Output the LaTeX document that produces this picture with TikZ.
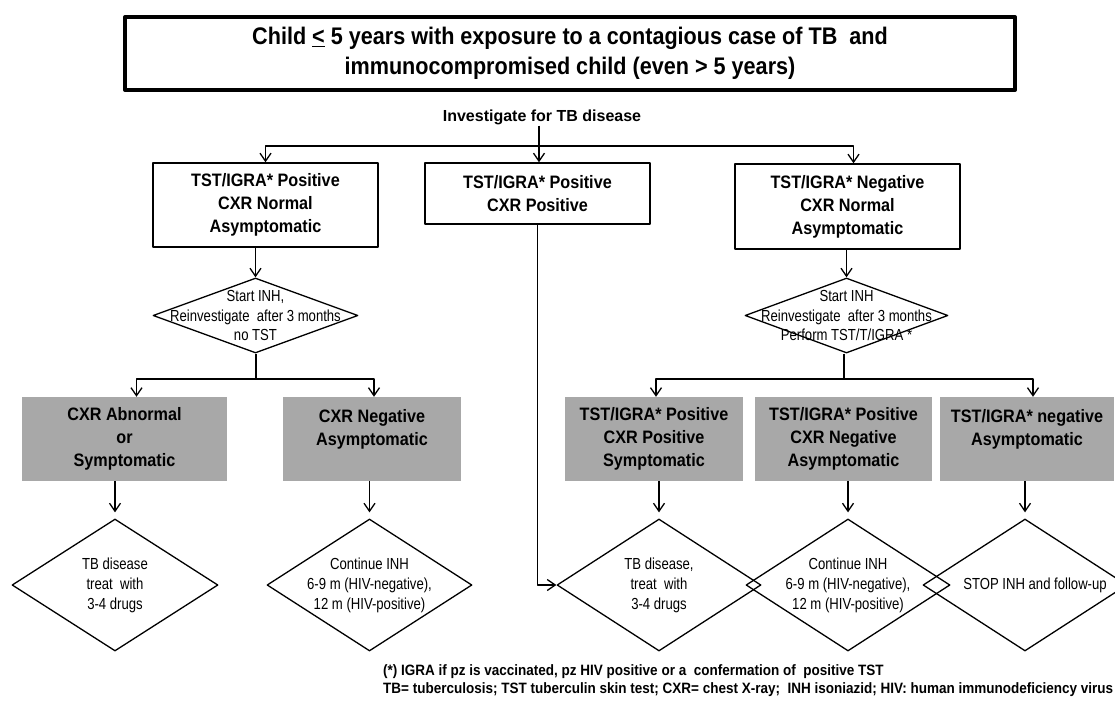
\documentclass[tikz,border=0pt]{standalone}
\usepackage{fontspec}
\setmainfont{Liberation Sans}
\newfontfamily\narrowfont{Liberation Sans}[FakeStretch=0.82]
\newfontfamily\notefamily{Liberation Sans}[FakeStretch=0.9]
\newfontfamily\titlefamily{Liberation Sans}[FakeStretch=0.9]
\usetikzlibrary{shapes.geometric,arrows.meta}
\definecolor{boxgrey}{RGB}{168,168,168}
\newcommand{\boxfont}{\titlefamily\bfseries\fontsize{18}{23}\selectfont}
\newcommand{\diafont}{\narrowfont\fontsize{16}{19.5}\selectfont}
\newcommand{\lowfont}{\narrowfont\fontsize{16}{20}\selectfont}
\newcommand{\notefont}{\notefamily\bfseries\fontsize{15}{18}\selectfont}
\tikzset{
	titlebox/.style={draw, line width=4pt, align=center, inner sep=0pt, font=\titlefamily\bfseries\fontsize{24}{30}\selectfont},
	whitebox/.style={draw, line width=1.4pt, align=center, inner sep=0pt, font=\boxfont},
	greybox/.style={fill=boxgrey, minimum height=84pt, align=center, inner sep=0pt, font=\boxfont},
	decision/.style={draw, diamond, line width=1.3pt, inner sep=0pt},
	diatext/.style={align=center, font=\diafont, inner sep=0pt},
	lowtext/.style={align=center, font=\lowfont, inner sep=0pt},
	link/.style={line width=1.3pt},
}
\begin{document}
\begin{tikzpicture}[x=1pt, y=-1pt, line join=round, >={Straight Barb[length=8pt,width=11pt]}]
	\useasboundingbox (0,0) rectangle (1115,712);
	%% title and first split
	\node[titlebox, minimum width=890pt, minimum height=73pt] (title) at (570,53.5)
	{Child \underline{<} 5 years with exposure to a contagious case of TB\ \ and\\immunocompromised child (even > 5 years)};
	\node[font=\bfseries\fontsize{16}{18}\selectfont, inner sep=1pt] (invest) at (542,117) {Investigate for TB disease};
	\coordinate (split) at (539,146);
	%% first row
	\node[whitebox, minimum width=225pt, minimum height=84pt] (b1) at (265.5,205) {TST/IGRA* Positive\\CXR Normal\\Asymptomatic};
	\node[whitebox, minimum width=225pt, minimum height=61pt] (b2) at (537.5,193.5) {TST/IGRA* Positive\\CXR Positive};
	\node[whitebox, minimum width=225pt, minimum height=85pt] (b3) at (847.5,206.5) {TST/IGRA* Negative\\CXR Normal\\Asymptomatic};
	\node[decision, minimum width=205pt, minimum height=75pt,
		label={[diatext]center:Start INH,\\Reinvestigate\ \ after 3 months\\no TST}] (d1) at (255.5,315.5) {};
	\node[decision, minimum width=203pt, minimum height=75pt,
		label={[diatext]center:Start INH\\Reinvestigate\ \ after 3 months\\Perform TST/T/IGRA *}] (d2) at (846.5,315.5) {};
	%% grey boxes
	\node[greybox, minimum width=205pt] (g1) at (124.5,439) {CXR Abnormal\\or\\Symptomatic};
	\node[greybox, minimum width=178pt] (g2) at (372,439) {CXR Negative\\Asymptomatic\\\mbox{}};
	\node[greybox, minimum width=178pt] (g3) at (654,439) {TST/IGRA* Positive\\CXR Positive\\Symptomatic};
	\node[greybox, minimum width=177pt] (g4) at (843.5,439) {TST/IGRA* Positive\\CXR Negative\\Asymptomatic};
	\node[greybox, minimum width=174pt] (g5) at (1027,439) {TST/IGRA* negative\\Asymptomatic\\\mbox{}};
	%% last row
	\node[decision, minimum width=206pt, minimum height=132pt,
		label={[lowtext]center:TB disease\\treat\ \ with\\3-4 drugs}] (e1) at (115,585) {};
	\node[decision, minimum width=205pt, minimum height=132pt,
		label={[lowtext]center:Continue INH\\6-9 m (HIV-negative),\\12 m (HIV-positive)}] (e2) at (369.5,585) {};
	\node[decision, minimum width=204pt, minimum height=132pt,
		label={[lowtext]center:TB disease,\\treat\ \ with\\3-4 drugs}] (e3) at (659,585) {};
	\node[decision, minimum width=204pt, minimum height=132pt,
		label={[lowtext]center:Continue INH\\6-9 m (HIV-negative),\\12 m (HIV-positive)}] (e4) at (848,585) {};
	\node[decision, minimum width=204pt, minimum height=132pt,
		label={[lowtext, xshift=10pt]center:STOP INH and follow-up}] (e5) at (1025,585) {};
	%% connectors
	\draw[link] (invest.south -| split) -- (split);
	\draw[link, ->] (split) -| (b1.north);
	\draw[link, ->] (split) -- (split |- b2.north);
	\draw[link, ->] (split) -| ([xshift=6pt]b3.north);
	\draw[link, ->] (b1.south -| d1.north) -- (d1.north);
	\draw[link, ->] (b3.south -| d2.north) -- (d2.north);
	\coordinate (j1) at (256,379);
	\coordinate (j2) at (844,379);
	\draw[link] (j1 |- d1.south) -- (j1);
	\draw[link, ->] (j1) -| ([xshift=12pt]g1.north);
	\draw[link, ->] (j1) -| ([xshift=2pt]g2.north);
	\draw[link] (j2 |- d2.south) -- (j2);
	\draw[link, ->] (j2) -| ([xshift=2pt]g3.north);
	\draw[link, ->] (j2) -| ([xshift=6pt]g5.north);
	\foreach \g/\e in {g1/e1, g2/e2, g3/e3, g4/e4, g5/e5}
	\draw[link, ->, shorten >=6pt] (\g.south -| \e.north) -- (\e.north);
	\draw[link, ->] (b2.south) |- (e3.west);
	%% notes
	\node[anchor=west, font=\notefont, inner sep=0pt] (note1) at (383,672) {(*) IGRA if pz is vaccinated, pz HIV positive or a\ \ confermation of\ \ positive TST};
	\node[anchor=west, font=\notefont, inner sep=0pt] (note2) at (383,690) {TB= tuberculosis; TST tuberculin skin test; CXR= chest X-ray;\ \ INH isoniazid; HIV: human immunodeficiency virus};
\end{tikzpicture}
\end{document}
